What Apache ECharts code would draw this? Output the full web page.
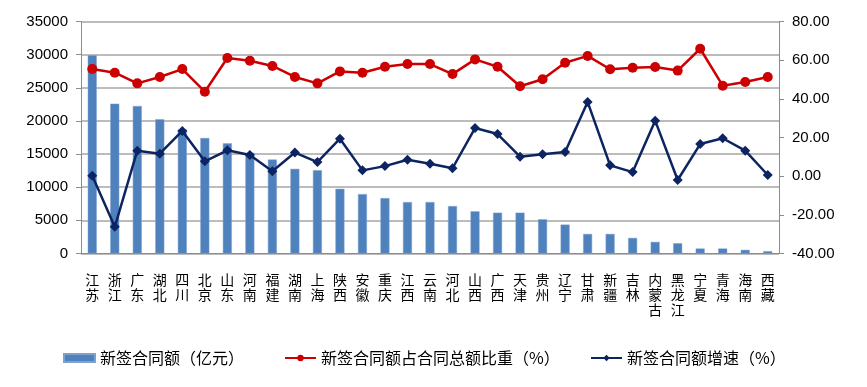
<!DOCTYPE html>
<html>
<head>
<meta charset="utf-8">
<script src="https://cdn.jsdelivr.net/npm/echarts@6/dist/echarts.min.js"></script>
<style>html,body{margin:0;padding:0;background:#fff}#c{width:867px;height:387px}</style>
</head>
<body>
<div id="c"></div>
<script>
const categories = ['江苏','浙江','广东','湖北','四川','北京','山东','河南','福建','湖南','上海','陕西','安徽','重庆','江西','云南','河北','山西','广西','天津','贵州','辽宁','甘肃','新疆','吉林','内蒙古','黑龙江','宁夏','青海','海南','西藏'];
const contractAmount = [29900,22600,22250,20250,18700,17420,16620,15200,14170,12770,12570,9760,8960,8360,7760,7760,7160,6360,6160,6160,5160,4360,2950,2950,2350,1750,1550,750,750,550,350];
const shareOfTotal = [55.4,53.5,48.0,51.3,55.4,43.7,61.1,59.7,57.0,51.3,48.0,54.2,53.5,56.6,58.0,58.0,52.8,60.4,56.6,46.5,50.1,58.7,62.2,55.3,56.1,56.5,54.6,65.9,46.8,48.7,51.3];
const growthRate = [0.2,-26.2,13.2,11.6,23.4,7.7,13.4,10.9,2.5,12.2,7.3,19.4,3.0,5.2,8.5,6.4,4.1,24.9,21.8,10.1,11.3,12.5,38.4,5.6,2.1,28.7,-2.0,16.6,19.6,13.2,0.6];
const seriesNames = ['新签合同额（亿元）','新签合同额占合同总额比重（%）','新签合同额增速（%）'];
const leftTicks = {min:0,max:35000,interval:5000};
const rightTicks = {min:-40,max:80,interval:20};

const chart = echarts.init(document.getElementById('c'), null, {renderer:'canvas'});
const axisFont = {fontFamily:'Liberation Sans, Arial, sans-serif', fontSize:15, color:'#000'};
const legendBase = {top:345, itemWidth:31, itemHeight:8, itemGap:6,
  textStyle:{fontFamily:'Noto Sans CJK SC', fontSize:16, color:'#000'}};
chart.setOption({
  animation:false,
  backgroundColor:'#fff',
  grid:{left:81,right:88,top:21.5,bottom:133.5,containLabel:false},
  legend:[
    {...legendBase, left:58, data:[{name:seriesNames[0], icon:'rect'}]},
    {...legendBase, left:279, data:[{name:seriesNames[1]}]},
    {...legendBase, left:585, data:[{name:seriesNames[2]}]}
  ],
  xAxis:{
    type:'category', data:categories,
    axisLine:{lineStyle:{color:'#8c8c8c',width:1}},
    axisTick:{alignWithLabel:false, length:5, lineStyle:{color:'#8c8c8c'}},
    axisLabel:{interval:0, margin:19, fontFamily:'Noto Sans CJK SC', fontSize:14, lineHeight:15, color:'#000',
      formatter:function(v){return v.split('').join('\n');}}
  },
  yAxis:[
    {type:'value', min:leftTicks.min, max:leftTicks.max, interval:leftTicks.interval,
     axisLine:{show:true,lineStyle:{color:'#8c8c8c'}},
     axisTick:{show:true,length:5,inside:false,lineStyle:{color:'#8c8c8c'}},
     axisLabel:{...axisFont, margin:13, formatter:function(v){return String(v);}},
     splitLine:{show:true,lineStyle:{color:'#a6a6a6',width:1.5}}},
    {type:'value', min:rightTicks.min, max:rightTicks.max, interval:rightTicks.interval, position:'right',
     axisLine:{show:true,lineStyle:{color:'#8c8c8c'}},
     axisTick:{show:true,length:5,lineStyle:{color:'#8c8c8c'}},
     axisLabel:{...axisFont, margin:13, formatter:function(v){return v.toFixed(2);}},
     splitLine:{show:false}}
  ],
  series:[
    {name:seriesNames[0], type:'bar', yAxisIndex:0, data:contractAmount, barWidth:9,
     itemStyle:{color:'#4f81bd', borderColor:'#7ea2d0', borderWidth:0.5}},
    {name:seriesNames[1], type:'line', yAxisIndex:1, data:shareOfTotal,
     symbol:'circle', symbolSize:10, lineStyle:{color:'#cc0000',width:2.5}, itemStyle:{color:'#cc0000'}, z:3},
    {name:seriesNames[2], type:'line', yAxisIndex:1, data:growthRate,
     symbol:'diamond', symbolSize:10, lineStyle:{color:'#0c2461',width:2.5}, itemStyle:{color:'#0c2461'}, z:4}
  ]
});
</script>
</body>
</html>
